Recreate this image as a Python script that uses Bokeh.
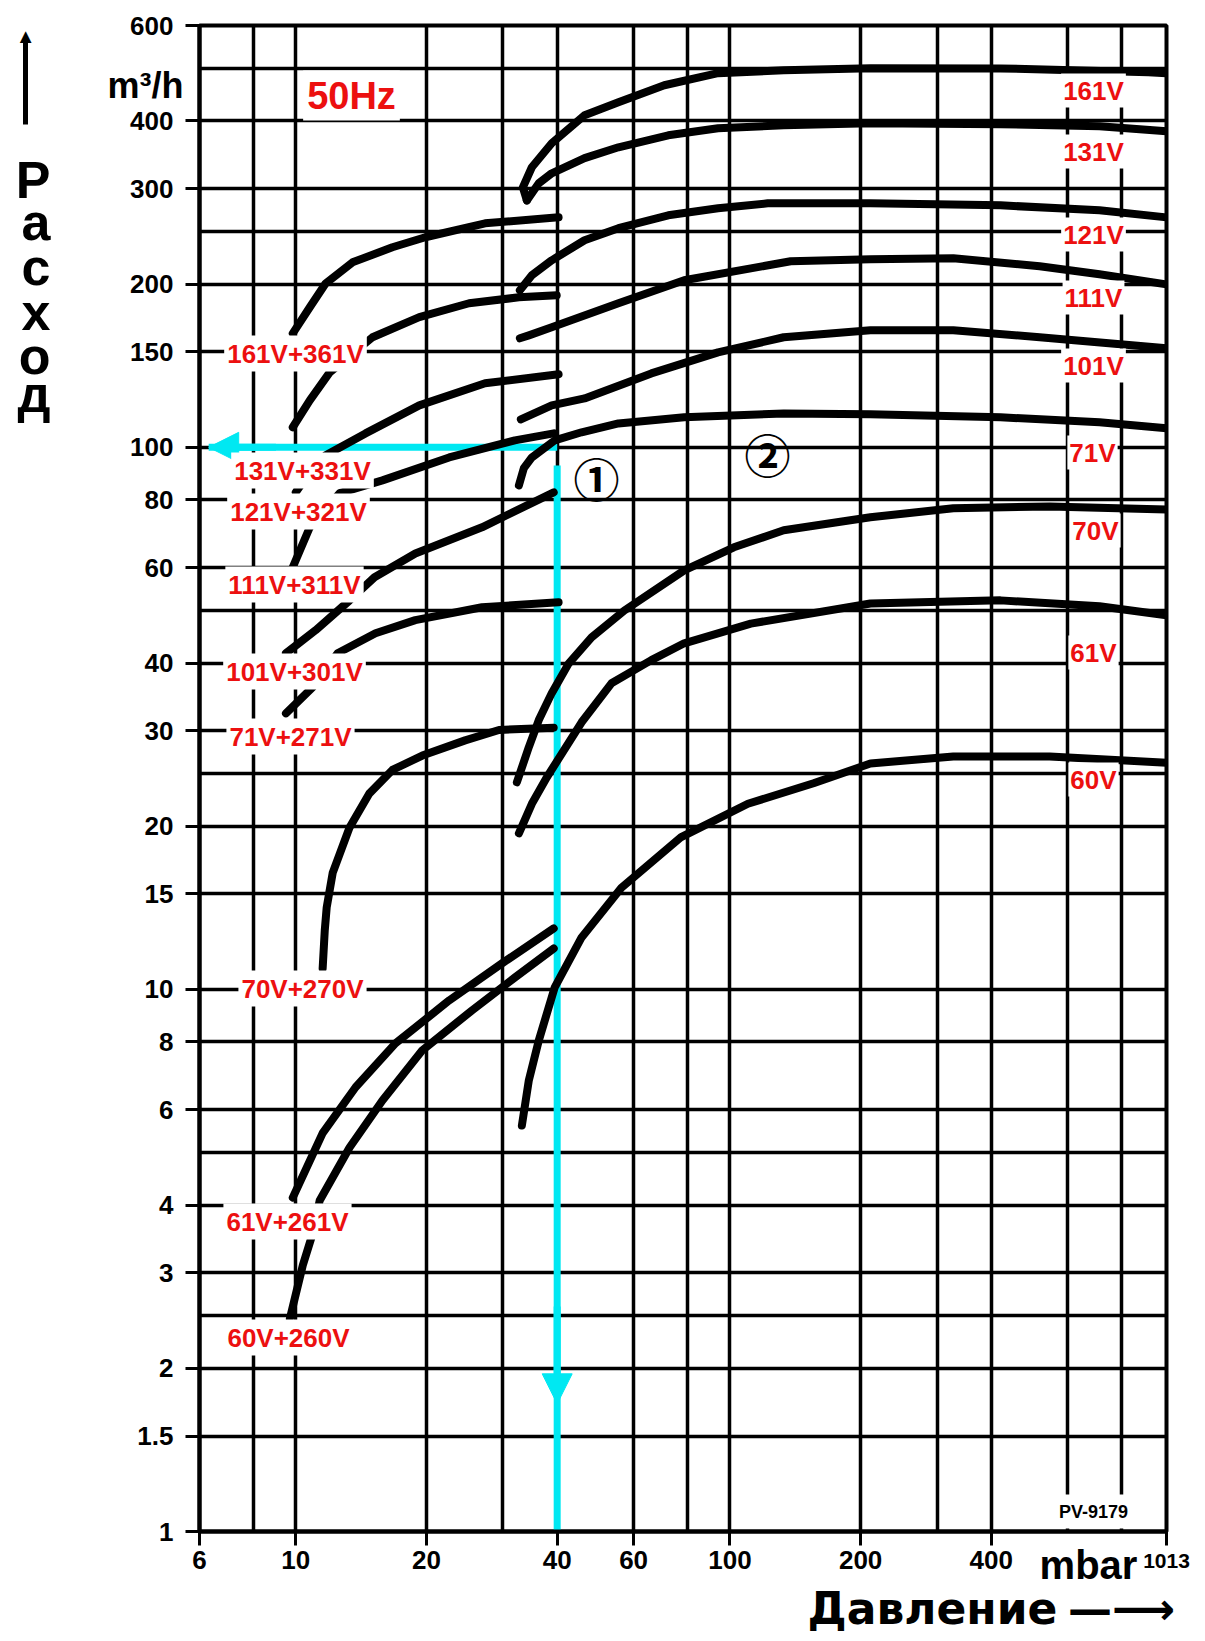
import math
import json
from bokeh.plotting import figure
from bokeh.models import (FixedTicker, CustomJSTickFormatter, Label, Arrow, NormalHead, LogAxis)
from bokeh.embed import file_html
from bokeh.resources import INLINE

# ---------------- axes / grid values ----------------
x_ticks = [6, 10, 20, 40, 60, 100, 200, 400, 1013]
y_ticks = [1, 1.5, 2, 3, 4, 6, 8, 10, 15, 20, 30, 40, 60, 80, 100, 150, 200, 300, 400, 600]
x_grid = [6, 8, 10, 20, 30, 40, 60, 80, 100, 200, 300, 400, 600, 800, 1013]
y_grid = [1, 1.5, 2, 2.5, 3, 4, 5, 6, 8, 10, 15, 20, 25, 30, 40, 50, 60, 80, 100,
          150, 200, 250, 300, 400, 500, 600]

# ---------------- combination curves (mbar, m3/h) ----------------
c161_361_x = [9.84, 10.77, 11.72, 13.51, 16.69, 19.87, 27.29, 40.3]
c161_361_y = [162.3, 181.3, 200.7, 219.4, 233.9, 244.1, 259.0, 265.6]
c131_331_x = [9.84, 10.77, 11.97, 15.02, 19.25, 25.07, 32.65, 39.9]
c131_331_y = [108.9, 122.1, 137.5, 159.6, 173.8, 184.4, 189.1, 190.7]
c121_321_x = [10.0, 10.65, 11.72, 14.47, 19.25, 27.29, 40.3]
c121_321_y = [82.6, 88.8, 96.7, 106.1, 119.5, 131.3, 136.4]
c111_311_x = [9.84, 10.77, 12.62, 15.83, 22.55, 31.96, 39.27]
c111_311_y = [60.1, 71.2, 82.3, 86.9, 95.8, 103.0, 106.1]
c101_301_x = [9.49, 11.11, 13.30, 15.18, 18.85, 26.85, 39.27]
c101_301_y = [41.7, 46.0, 52.2, 57.6, 63.7, 71.2, 82.6]
c71_271_x = [9.49, 10.94, 12.48, 15.26, 18.85, 26.85, 40.3]
c71_271_y = [32.3, 36.1, 41.7, 45.4, 48.0, 50.7, 51.8]
c70_270_x = [11.53, 11.66, 11.78, 12.16, 13.30, 14.78, 16.69, 19.56, 24.55, 29.38, 39.27]
c70_270_y = [10.93, 12.85, 14.17, 16.4, 19.9, 23.0, 25.4, 27.0, 28.8, 30.1, 30.4]
c61_261_x = [9.84, 11.53, 13.73, 16.96, 22.55, 29.85, 39.27]
c61_261_y = [4.13, 5.43, 6.60, 7.95, 9.54, 11.17, 12.96]
c60_260_x = [9.69, 10.38, 10.94, 11.35, 13.30, 15.83, 19.56, 25.47, 31.96, 39.27]
c60_260_y = [2.47, 3.10, 3.55, 4.08, 5.11, 6.24, 7.72, 9.15, 10.52, 11.90]

# ---------------- single pump curves ----------------
r161_x = [34.06, 33.34, 34.97, 38.86, 46.25, 55.35, 70.59, 93.87, 133.0, 210.6, 420, 920, 1013]
r161_y = [285.5, 301.8, 328.6, 363.8, 409.9, 433, 465.5, 490, 496, 500.4, 500, 492, 490]
r131_x = [34.06, 36.28, 38.86, 46.25, 55.35, 72.10, 93.87, 133.0, 210.6, 420, 710, 1013]
r131_y = [285.5, 307.0, 320.3, 341.5, 357.7, 376.4, 387.8, 392.8, 396.2, 394.5, 391.2, 382.9]
r121_x = [32.82, 34.97, 38.86, 46.25, 55.35, 72.10, 93.87, 122.2, 210.6, 420, 710, 1013]
r121_y = [194.8, 207.7, 221.3, 241.0, 253.6, 267.9, 276.1, 281.9, 281.9, 279.5, 273.7, 265.6]
r111_x = [32.82, 34.42, 38.86, 55.35, 78.45, 111.7, 138.0, 210.6, 327, 517, 710, 1013]
r111_y = [158.9, 160.9, 166.5, 184.4, 203.3, 213.9, 220.4, 222.3, 223.3, 215.8, 208.6, 199.8]
r101_x = [32.99, 38.86, 46.25, 65.90, 93.87, 133.0, 210.6, 327, 517, 1013]
r101_y = [112.6, 119.5, 123.1, 136.9, 149.7, 159.6, 164.4, 164.4, 159.6, 152.3]
r71_x = [32.65, 33.52, 34.97, 39.48, 45.53, 55.35, 78.45, 133.0, 210.6, 420, 710, 1013]
r71_y = [85.1, 91.5, 95.8, 103.0, 106.6, 110.7, 113.6, 115.5, 115.1, 113.6, 111.2, 108.4]
r70_x = [32.30, 34.42, 36.28, 38.86, 42.50, 48.00, 57.13, 78.45, 102.1, 133.0, 210.6, 327, 545, 1013]
r70_y = [24.1, 28.0, 31.4, 35.2, 39.9, 44.6, 50.0, 59.3, 65.4, 70.3, 74.3, 77.2, 77.8, 76.8]
r61_x = [32.65, 34.97, 37.84, 45.53, 53.34, 65.90, 78.45, 111.7, 210.6, 420, 710, 1013]
r61_y = [19.4, 22.0, 24.6, 31.1, 36.7, 40.5, 43.5, 47.3, 51.5, 52.2, 50.9, 49.0]
r60_x = [33.17, 34.42, 36.28, 39.48, 45.53, 56.23, 77.21, 110.0, 155.8, 210.6, 327, 545, 1013]
r60_y = [5.61, 6.80, 8.05, 10.09, 12.47, 15.4, 19.1, 22.0, 24.0, 26.1, 26.9, 26.9, 26.2]

combo_names = ["161V+361V", "131V+331V", "121V+321V", "111V+311V", "101V+301V",
               "71V+271V", "70V+270V", "61V+261V", "60V+260V"]
pump_names = ["161V", "131V", "121V", "111V", "101V", "71V", "70V", "61V", "60V"]

# example reading (cyan): 40 mbar -> 100 m3/h
ex_v_x = [40, 40]
ex_v_y = [1, 92.6]
ex_h_x = [6.3, 40]
ex_h_y = [100, 100]

# ---------------- layout (page pixels) ----------------
W, H = 1200, 1640
FL, FR, FT, FB = 199, 1166, 25, 1531      # frame edges
RED = "#ec1010"
CYAN = "#00e8f2"
FONT = "Liberation Sans"

LX0, LX1 = math.log10(6), math.log10(1013)
LY1 = math.log10(600)


def X(px):
    return 10 ** (LX0 + (px - FL) / (FR - FL) * (LX1 - LX0))


def Y(py):
    return 10 ** ((FB - py) / (FB - FT) * LY1)


p = figure(width=W, height=H, x_axis_type="log", y_axis_type="log",
           x_range=(6, 1013), y_range=(1, 600),
           output_backend="svg", toolbar_location=None,
           min_border_left=FL, min_border_right=W - FR,
           min_border_top=FT, min_border_bottom=H - FB)
p.background_fill_color = "white"
p.border_fill_color = "white"
p.outline_line_color = "black"
p.outline_line_width = 4

for ax in (p.xaxis[0], p.yaxis[0]):
    ax.axis_line_width = 4
    ax.axis_line_color = "black"
    ax.major_tick_line_width = 3
    ax.major_tick_line_color = "black"
    ax.major_tick_out = 14
    ax.major_tick_in = 0
    ax.minor_tick_line_color = None
    ax.major_label_text_font = FONT
    ax.major_label_text_font_style = "bold"
    ax.major_label_text_font_size = "26px"
    ax.major_label_text_color = "black"

p.xaxis.ticker = FixedTicker(ticks=x_ticks)
p.yaxis.ticker = FixedTicker(ticks=y_ticks)
p.xaxis.formatter = CustomJSTickFormatter(code="return tick == 1013 ? '' : tick.toString();")
p.yaxis.formatter = CustomJSTickFormatter(code="return tick.toString();")
p.yaxis.major_label_standoff = 12
p.xaxis.major_label_standoff = 5

p.xgrid.ticker = FixedTicker(ticks=x_grid)
p.ygrid.ticker = FixedTicker(ticks=y_grid)
for g in (p.xgrid[0], p.ygrid[0]):
    g.grid_line_color = "black"
    g.grid_line_width = 3.5
    g.grid_line_alpha = 1.0


def lookup_formatter(ticks, labels):
    code = ("const T = %s; const L = %s; let b = 0;"
            "for (let i = 0; i < T.length; i++) {"
            " if (Math.abs(Math.log(T[i]) - Math.log(tick)) < Math.abs(Math.log(T[b]) - Math.log(tick))) b = i; }"
            "return L[b];") % (json.dumps(ticks), json.dumps(labels, ensure_ascii=False))
    return CustomJSTickFormatter(code=code)


def text_axis(side, ticks, labels, size, standoff, font=FONT, bounds=None, line_width=0):
    ax = LogAxis(ticker=FixedTicker(ticks=ticks), formatter=lookup_formatter(ticks, labels),
                 major_tick_out=0, major_tick_in=0, major_tick_line_color=None,
                 minor_tick_line_color=None, minor_tick_out=0, minor_tick_in=0,
                 axis_line_color=None, major_label_standoff=standoff,
                 major_label_text_font=font, major_label_text_font_style="bold",
                 major_label_text_font_size=f"{size}px", major_label_text_color="black")
    if bounds is not None:
        ax.bounds = bounds
        ax.axis_line_color = "black"
        ax.axis_line_width = line_width
    p.add_layout(ax, side)
    return ax


# left side: unit, spacer (em space), arrow, stacked title
text_axis("left", [Y(85)], ["m³/h"], 36, -56)
text_axis("left", [Y(1500)], ["\u2003"], 76, 0)
text_axis("left", [Y(35)], ["▲"], 20, -10, bounds=(Y(124), Y(40)), line_width=5)
letters = ["д", "о", "х", "с", "а", "Р"]
letter_mid = [393, 355, 311, 266, 221, 179]
text_axis("left", [Y(v) for v in letter_mid], letters, 52, -38)

# bottom: unit, title with arrow, end value
text_axis("below", [X(1088)], ["mbar"], 40, -29)
text_axis("below", [X(932), X(1121)], ["Давление", "—⟶"], 44, -7, font="DejaVu Sans")
text_axis("below", [1013], ["1013"], 21, -83)

# cyan example lines
p.line(ex_v_x, ex_v_y, line_color=CYAN, line_width=7)
p.line(ex_h_x, ex_h_y, line_color=CYAN, line_width=7)
p.add_layout(Arrow(end=NormalHead(size=30, fill_color=CYAN, line_color=CYAN, line_width=1),
                   x_start=40, y_start=2.6, x_end=40, y_end=1.72,
                   line_color=CYAN, line_width=7))
p.add_layout(Arrow(end=NormalHead(size=30, fill_color=CYAN, line_color=CYAN, line_width=1),
                   x_start=9, y_start=100, x_end=6.3, y_end=100,
                   line_color=CYAN, line_width=7))

curves = [
    (c161_361_x, c161_361_y), (c131_331_x, c131_331_y), (c121_321_x, c121_321_y),
    (c111_311_x, c111_311_y), (c101_301_x, c101_301_y), (c71_271_x, c71_271_y),
    (c70_270_x, c70_270_y), (c61_261_x, c61_261_y), (c60_260_x, c60_260_y),
    (r161_x, r161_y), (r131_x, r131_y), (r121_x, r121_y), (r111_x, r111_y),
    (r101_x, r101_y), (r71_x, r71_y), (r70_x, r70_y), (r61_x, r61_y), (r60_x, r60_y),
]
for cx, cy in curves:
    p.line(cx, cy, line_color="black", line_width=8, line_cap="round", line_join="round")


def add_text(text, px, py, size, color="black", align="center", baseline="middle",
             bg=None, pad=0, font=FONT, style="bold"):
    p.add_layout(Label(x=X(px), y=Y(py), text=text, text_font=font, text_font_style=style,
                       text_font_size=f"{size}px", text_color=color, text_align=align,
                       text_baseline=baseline, background_fill_color=bg, padding=pad))


combo_pos = [(295, 353), (302, 470), (298, 511), (294, 584), (294, 671),
             (290, 736), (302, 988), (287, 1221), (288, 1337)]
for name, (px, py) in zip(combo_names, combo_pos):
    add_text(name, px, py, 26, color=RED, bg="white", pad=3)

pump_pos = [(1093, 90), (1093, 151), (1093, 234), (1093, 297), (1093, 365),
            (1092, 452), (1095, 530), (1093, 652), (1093, 779)]
for name, (px, py) in zip(pump_names, pump_pos):
    add_text(name, px, py, 26, color=RED, bg="white", pad=2)

add_text("50Hz", 351, 95, 38, color=RED, bg="white", pad=4)
add_text("①", 596, 476, 46, font="Noto Sans CJK JP")
add_text("②", 767, 452, 46, font="Noto Sans CJK JP")
add_text("PV-9179", 1093, 1511, 18, bg="white", pad=7)

open("out.html", "w").write(file_html(p, INLINE))
